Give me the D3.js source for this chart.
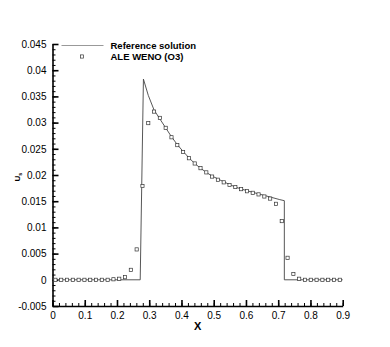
<!DOCTYPE html>
<html>
<head>
  <meta charset="utf-8">
  <title>ALE WENO vs reference</title>
  <style>
    body {
      margin: 0;
      padding: 0;
      background: #fff;
      font-family: "Liberation Sans", Arial, sans-serif;
    }
    .axis path, .axis line {
      stroke: #000;
    }
    .axis text {
      font-size: 10px;
      fill: #000;
      font-family: "Liberation Sans", Arial, sans-serif;
    }
  </style>
</head>
<body>
  <div id="chart"></div>

  <script src="https://d3js.org/d3.v7.min.js"></script>
  <script>
    // reference solution
    var refX = [0, 0.272, 0.282, 0.297, 0.315, 0.333, 0.351, 0.369, 0.387, 0.405, 0.423,
                0.441, 0.459, 0.477, 0.495, 0.531, 0.567, 0.603, 0.639, 0.675, 0.705, 0.719, 0.719, 0.9];
    var refY = [0, 0, 0.0383, 0.0352, 0.0324, 0.0307, 0.0290, 0.0273, 0.0258, 0.0245, 0.0233,
                0.0222, 0.0213, 0.0205, 0.0198, 0.0187, 0.0177, 0.0170, 0.0164, 0.0158, 0.0153, 0.0151, 0, 0];

    // ALE WENO (O3) markers
    var wenoX = [0.009, 0.027, 0.045, 0.063, 0.081, 0.099, 0.117, 0.135, 0.153, 0.171,
                 0.189, 0.207, 0.225, 0.243, 0.261, 0.279, 0.297, 0.315, 0.333, 0.351,
                 0.369, 0.387, 0.405, 0.423, 0.441, 0.459, 0.477, 0.495, 0.513, 0.531,
                 0.549, 0.567, 0.585, 0.603, 0.621, 0.639, 0.657, 0.675, 0.693, 0.711,
                 0.729, 0.747, 0.765, 0.783, 0.801, 0.819, 0.837, 0.855, 0.873, 0.891];
    var wenoY = [0, 0, 0, 0, 0, 0, 0, 0, 0, 0,
                 0.0001, 0.0002, 0.0005, 0.0019, 0.0058, 0.0179, 0.0299, 0.0321, 0.0309, 0.0290,
                 0.0272, 0.0257, 0.0244, 0.0232, 0.0222, 0.0213, 0.0205, 0.0197, 0.0191, 0.0186,
                 0.0181, 0.0177, 0.0173, 0.0169, 0.0166, 0.0163, 0.0159, 0.0155, 0.0145, 0.0112,
                 0.0042, 0.0011, 0.0002, 0, 0, 0, 0, 0, 0, 0];

    var xTicks = [0, 0.1, 0.2, 0.3, 0.4, 0.5, 0.6, 0.7, 0.8, 0.9];
    var yTicks = [-0.005, 0, 0.005, 0.01, 0.015, 0.02, 0.025, 0.03, 0.035, 0.04, 0.045];
    var legendLabels = ["Reference solution", "ALE WENO (O3)"];

    var width = 390,
      height = 347;
    // plot box in px
    var padL = 52.5, padR = 342.7, padT = 44, padB = 306;

    var svg = d3.select("#chart").append("svg")
      .attr("width", width)
      .attr("height", height);

    var x = d3.scaleLinear().domain([0, 0.9]).range([padL, padR]);
    var y = d3.scaleLinear().domain([-0.005, 0.045]).range([padB, padT]);

    // minor ticks first, major ticks on top
    svg.append("g")
      .attr("class", "axis")
      .attr("transform", "translate(0," + padB + ")")
      .call(d3.axisBottom(x).tickValues(d3.range(0, 0.9001, 0.02)).tickSize(-3).tickFormat(""))
      .call(function(g) { g.select(".domain").remove(); })
      .selectAll("line").attr("stroke-width", 1);

    svg.append("g")
      .attr("class", "axis")
      .attr("transform", "translate(" + padL + ",0)")
      .call(d3.axisLeft(y).tickValues(d3.range(-0.005, 0.04501, 0.001)).tickSize(-3).tickFormat(""))
      .call(function(g) { g.select(".domain").remove(); })
      .selectAll("line").attr("stroke-width", 1);

    var fmt = function(d) { return String(+d.toFixed(3)); };

    var xAxis = svg.append("g")
      .attr("class", "axis")
      .attr("transform", "translate(0," + padB + ")")
      .call(d3.axisBottom(x).tickValues(xTicks).tickSizeInner(-6).tickSizeOuter(0).tickPadding(6).tickFormat(fmt));
    xAxis.selectAll("line").attr("stroke-width", 1.6);
    xAxis.select(".domain").attr("stroke-width", 1.6);

    var yAxis = svg.append("g")
      .attr("class", "axis")
      .attr("transform", "translate(" + padL + ",0)")
      .call(d3.axisLeft(y).tickValues(yTicks).tickSizeInner(-6).tickSizeOuter(0).tickPadding(6).tickFormat(fmt));
    yAxis.selectAll("line").attr("stroke-width", 1.6);
    yAxis.select(".domain").attr("stroke-width", 1.6);

    // reference line
    var line = d3.line()
      .x(function(d, i) { return x(refX[i]); })
      .y(function(d, i) { return y(refY[i]); });

    svg.append("path")
      .datum(refX)
      .attr("d", line)
      .attr("fill", "none")
      .attr("stroke", "#444")
      .attr("stroke-width", 0.9);

    // markers
    var ms = 3.2;
    svg.append("g")
      .selectAll("rect")
      .data(wenoX)
      .enter()
      .append("rect")
      .attr("x", function(d) { return x(d) - ms / 2; })
      .attr("y", function(d, i) { return y(wenoY[i]) - ms / 2; })
      .attr("width", ms)
      .attr("height", ms)
      .attr("fill", "#fff")
      .attr("stroke", "#333")
      .attr("stroke-width", 0.7);

    // legend
    var legend = svg.append("g");
    legend.append("line")
      .attr("x1", 61.5).attr("x2", 103.5)
      .attr("y1", 45.5).attr("y2", 45.5)
      .attr("stroke", "#999")
      .attr("stroke-width", 1);
    legend.append("rect")
      .attr("x", 82 - ms / 2).attr("y", 56.5 - ms / 2)
      .attr("width", ms).attr("height", ms)
      .attr("fill", "#fff").attr("stroke", "#333").attr("stroke-width", 0.7);
    legend.selectAll("text")
      .data(legendLabels)
      .enter()
      .append("text")
      .attr("x", 110.5)
      .attr("y", function(d, i) { return 49 + i * 11; })
      .attr("font-size", "9.5px")
      .attr("font-weight", "bold")
      .text(function(d) { return d; });

    // axis titles
    svg.append("text")
      .attr("x", (padL + padR) / 2)
      .attr("y", 330)
      .attr("text-anchor", "middle")
      .attr("font-size", "11px")
      .attr("font-weight", "bold")
      .text("X");

    var yt = svg.append("text")
      .attr("transform", "translate(19.5,177) rotate(-90)")
      .attr("text-anchor", "middle")
      .attr("font-size", "8px")
      .attr("font-weight", "bold");
    yt.append("tspan").text("U");
    yt.append("tspan").attr("dy", 2).attr("font-size", "5.5px").text("s");
  </script>
</body>
</html>
